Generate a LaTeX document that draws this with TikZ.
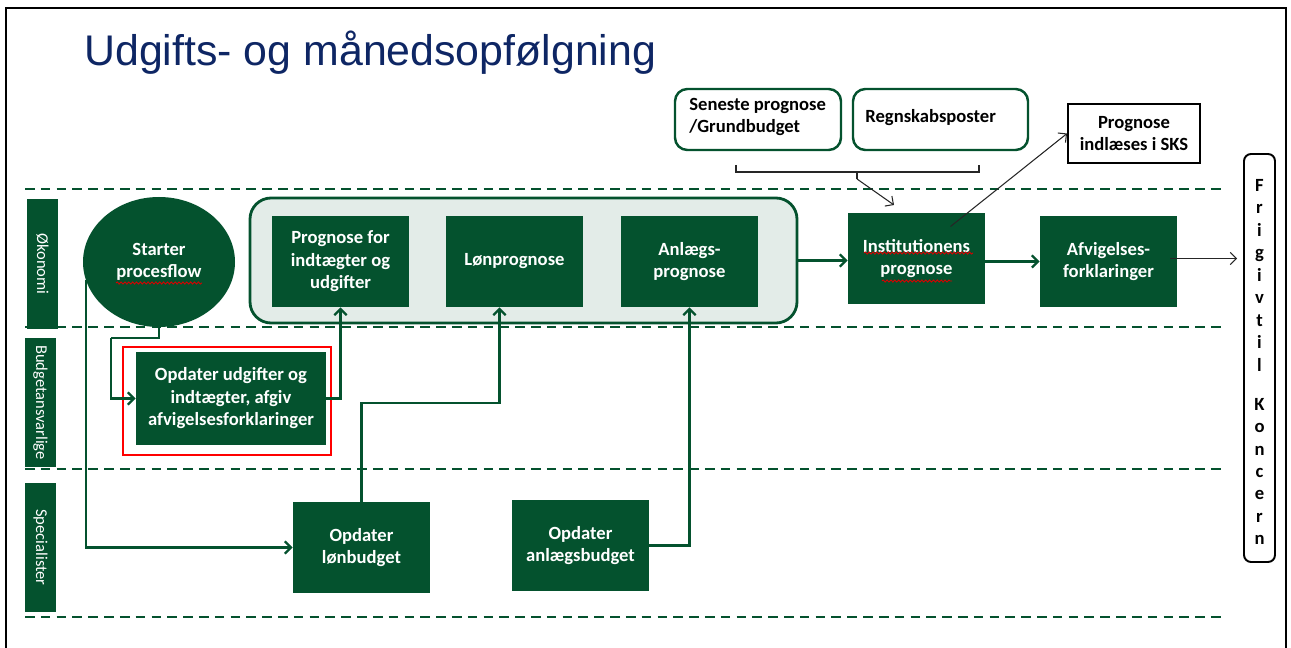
\documentclass[tikz,border=0pt]{standalone}
\usepackage{fontspec}
\setmainfont{Carlito}
\newfontfamily\titlefont{Liberation Sans}
\usetikzlibrary{arrows.meta,calc,decorations.pathmorphing,shapes.geometric}
\definecolor{dkgreen}{RGB}{4,82,46}
\definecolor{lightgrp}{RGB}{227,236,232}
\definecolor{titleblue}{RGB}{14,38,100}
\tikzset{
  gbox/.style={rectangle, fill=dkgreen, draw=none, text=white, align=center,
    font=\bfseries\fontsize{10.6}{12.8}\selectfont, inner sep=0pt},
  wbox/.style={rectangle, rounded corners=7pt, draw=dkgreen, line width=1.4pt, fill=white,
    inner sep=0pt},
  lanebox/.style={rectangle, fill=dkgreen, draw=none, inner sep=0pt},
  lanetext/.style={text=white, rotate=-90, font=\fontsize{9.4}{11}\selectfont, inner sep=0pt},
  conn/.style={draw=dkgreen, line width=1.3pt, -{Straight Barb[length=3.5pt,width=7pt]}},
  plainconn/.style={draw=dkgreen, line width=1.3pt},
  blackarrow/.style={draw=black!85, line width=0.6pt, -{Straight Barb[length=3.5pt,width=7pt]}},
  lanedash/.style={draw=dkgreen, line width=1.2pt, dash pattern=on 5.5pt off 3.5pt},
  squiggle/.style={draw=red!85!black, line width=0.5pt, decorate,
    decoration={snake, amplitude=0.6pt, segment length=2.2pt}},
}
\begin{document}
\begin{tikzpicture}[x=0.02cm,y=-0.02cm]
\useasboundingbox (0,0) rectangle (1291,648);
% frame
\draw[black, line width=1.2pt] (6,648) -- (6,8) -- (1286,8) -- (1286,648);
% title
\node[anchor=west, text=titleblue, font=\titlefont\fontsize{24.4}{28}\selectfont, inner sep=0pt] (title) at (84,53) {Udgifts- og månedsopfølgning};
% lane separators
\draw[lanedash] (25,189) -- (1222,189);
\draw[lanedash] (25,327) -- (1222,327);
\draw[lanedash] (25,469) -- (1222,469);
\draw[lanedash] (25,617) -- (1222,617);
% lane labels
\node[lanebox, minimum width={31*0.02cm}, minimum height={130*0.02cm}] (l1) at (42.5,264) {};
\node[lanetext] at (l1) {Økonomi};
\node[lanebox, minimum width={31*0.02cm}, minimum height={129*0.02cm}] (l2) at (40.5,402.5) {};
\node[lanetext] at (l2) {Budgetansvarlige};
\node[lanebox, minimum width={31*0.02cm}, minimum height={129*0.02cm}] (l3) at (40.5,547.5) {};
\node[lanetext] at (l3) {Specialister};
% top input boxes
\node[wbox, minimum width={166*0.02cm}, minimum height={61*0.02cm}] (sen) at (758,119.5) {};
\node[anchor=west, align=left, font=\bfseries\fontsize{10.6}{12.8}\selectfont, inner sep=0pt] at (689,117) {Seneste prognose\\/Grundbudget};
\node[wbox, minimum width={175*0.02cm}, minimum height={61*0.02cm}] (reg) at (940.5,119.5) {};
\node[anchor=west, font=\bfseries\fontsize{10.6}{12.8}\selectfont, inner sep=0pt] at (865,118) {Regnskabsposter};
% bracket
\coordinate (brm) at (857,179);
\coordinate (brtip) at (894,205);
\draw[black!85, line width=0.6pt] (736,165) -- (736,172) -- (979,172) -- (979,165);
\draw[black!85, line width=0.6pt] (857,172) -- (brm);
\draw[blackarrow] (brm) -- (brtip);
% SKS box
\node[rectangle, draw=black, line width=1.1pt, minimum width={132*0.02cm}, minimum height={59*0.02cm}, align=center, font=\bfseries\fontsize{10.6}{12.8}\selectfont, inner sep=0pt] (sks) at (1134,133.5) {Prognose\\indlæses i SKS};
% Frigivt til Koncern
\node[rectangle, rounded corners=4pt, draw=black, line width=1.1pt, minimum width={31*0.02cm}, minimum height={408*0.02cm}, inner sep=0pt] (frig) at (1259.5,358) {};
\node[align=center, font=\bfseries\fontsize{10.6}{12.8}\selectfont, inner sep=0pt] at (1259.5,362) {F\\r\\i\\g\\i\\v\\t\\i\\l\\[9.4pt]K\\o\\n\\c\\e\\r\\n};
% Økonomi lane
\node[ellipse, fill=dkgreen, minimum width={152*0.02cm}, minimum height={130*0.02cm}, inner sep=0pt, text=white, align=center, font=\bfseries\fontsize{10.6}{12.8}\selectfont] (start) at (159,262) {Starter\\procesflow};
\draw[squiggle] (116,283) -- (202,283);
\node[rectangle, rounded corners=12pt, fill=lightgrp, draw=dkgreen, line width=1.6pt, minimum width={547*0.02cm}, minimum height={125*0.02cm}, inner sep=0pt] (grp) at (523.5,260.5) {};
\node[gbox, minimum width={137*0.02cm}, minimum height={91*0.02cm}] (prog) at (340.5,261.5) {Prognose for\\indtægter og\\udgifter};
\node[gbox, minimum width={137*0.02cm}, minimum height={91*0.02cm}] (lonp) at (514.5,261.5) {Lønprognose};
\node[gbox, minimum width={137*0.02cm}, minimum height={91*0.02cm}] (anlp) at (689.5,261.5) {Anlægs-\\prognose};
\node[gbox, minimum width={137*0.02cm}, minimum height={91*0.02cm}] (inst) at (916.5,258.5) {Institutionens\\prognose};
\draw[squiggle] (864,253) -- (973,253);
\draw[squiggle] (882,281) -- (952,281);
\node[gbox, minimum width={137*0.02cm}, minimum height={91*0.02cm}] (afv) at (1108.5,261.5) {Afvigelses-\\forklaringer};
% Budgetansvarlige lane
\node[rectangle, draw=red, line width=1.7pt, minimum width={208*0.02cm}, minimum height={108*0.02cm}, inner sep=0pt] (redframe) at (227,401) {};
\node[gbox, minimum width={190*0.02cm}, minimum height={93*0.02cm}] (opd) at (231,398.5) {Opdater udgifter og\\indtægter, afgiv\\afvigelsesforklaringer};
% Specialister lane
\node[gbox, minimum width={137*0.02cm}, minimum height={91*0.02cm}] (lon) at (361.5,547.5) {Opdater\\lønbudget};
\node[gbox, minimum width={137*0.02cm}, minimum height={91*0.02cm}] (anlb) at (580.5,545.5) {Opdater\\anlægsbudget};
% connectors
\coordinate (b1) at (111,338);
\draw[plainconn] (start.south) |- (b1);
\draw[conn] (b1) |- (opd.west);
\draw[conn] (opd.east) -| (prog.south);
\draw[conn] (start.194) |- (lon.west);
\coordinate (lonin) at ($(lonp.south)+(-15,0)$);
\draw[conn] (lon.north) -- ++(0,-99) -| (lonin);
\draw[conn] (anlb.east) -| (anlp.south);
\draw[conn] (grp.east) -- (inst.west |- grp.east);
\draw[conn] (inst.east |- afv.west) -- (afv.west);
\coordinate (instout) at ($(inst.center)+(34,-32)$);
\draw[blackarrow] (instout) -- (sks.west);
\coordinate (afvout) at ($(afv.east)+(-7,-3)$);
\draw[blackarrow] (afvout) -- ($(frig.west |- afvout)+(-6,0)$);
\end{tikzpicture}
\end{document}
